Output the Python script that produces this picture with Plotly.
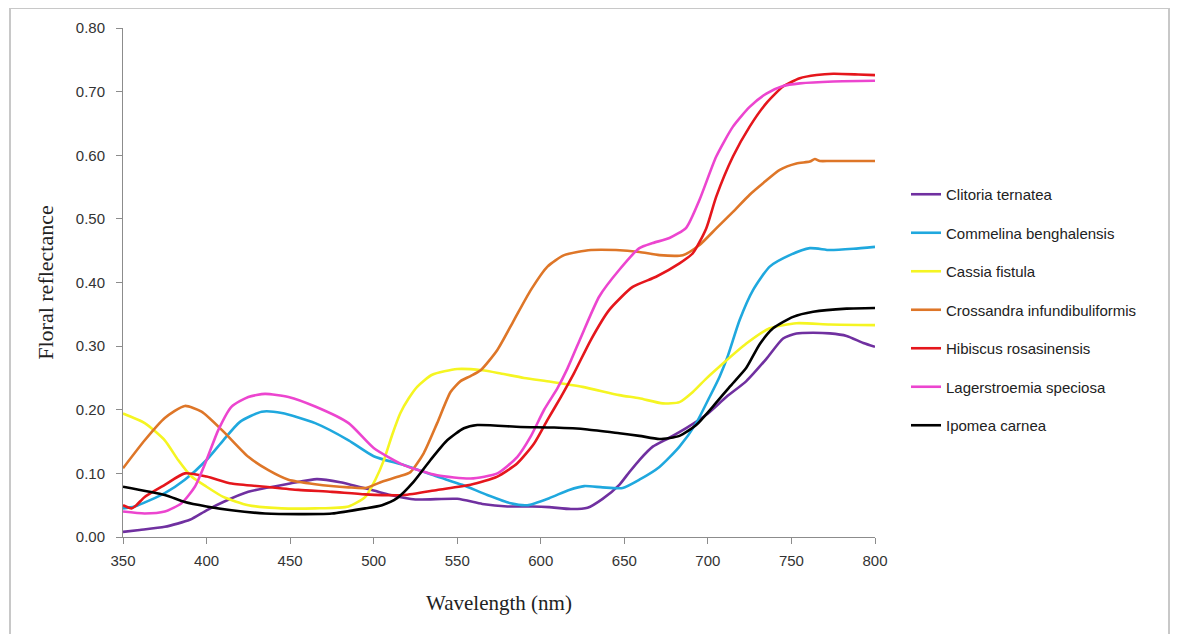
import plotly.graph_objects as go

# ---- data ----
clitoria_wl = [350, 360, 375, 390, 400, 410, 425, 450, 466, 480, 500, 510, 525, 550, 565, 580, 595, 605, 618, 628, 637, 647, 653, 659, 667, 677, 687, 699, 711, 723, 735, 745, 753, 763, 773, 783, 793, 800]
clitoria_val = [0.008, 0.011, 0.016, 0.027, 0.042, 0.055, 0.071, 0.084, 0.091, 0.086, 0.073, 0.066, 0.059, 0.060, 0.052, 0.048, 0.048, 0.047, 0.044, 0.046, 0.060, 0.082, 0.102, 0.121, 0.142, 0.156, 0.171, 0.192, 0.220, 0.245, 0.280, 0.312, 0.320, 0.321, 0.320, 0.316, 0.305, 0.299]

commelina_wl = [350, 357, 375, 387, 400, 410, 420, 433, 445, 465, 485, 500, 518, 538, 553, 568, 582, 592, 605, 617, 626, 637, 649, 659, 671, 683, 693, 701, 707, 712, 719, 727, 737, 749, 761, 773, 787, 800]
commelina_val = [0.045, 0.048, 0.069, 0.090, 0.121, 0.152, 0.181, 0.197, 0.195, 0.179, 0.152, 0.127, 0.113, 0.095, 0.082, 0.066, 0.053, 0.050, 0.061, 0.074, 0.080, 0.078, 0.077, 0.090, 0.110, 0.142, 0.179, 0.220, 0.252, 0.285, 0.341, 0.388, 0.425, 0.443, 0.454, 0.451, 0.453, 0.456]

cassia_wl = [350, 363, 375, 383, 391, 400, 410, 425, 445, 465, 485, 495, 501, 506, 511, 516, 521, 526, 535, 550, 565, 576, 590, 606, 625, 647, 659, 673, 683, 691, 699, 707, 723, 737, 753, 773, 800]
cassia_val = [0.194, 0.179, 0.152, 0.121, 0.095, 0.079, 0.063, 0.050, 0.045, 0.045, 0.048, 0.063, 0.090, 0.120, 0.160, 0.195, 0.218, 0.236, 0.255, 0.264, 0.262, 0.257, 0.250, 0.244, 0.236, 0.223, 0.218, 0.210, 0.212, 0.228, 0.249, 0.268, 0.304, 0.328, 0.336, 0.334, 0.333]

crossandra_wl = [350, 363, 375, 387, 397, 410, 425, 437, 449, 465, 485, 495, 505, 515, 522, 530, 538, 546, 552, 558, 564, 574, 584, 594, 604, 614, 630, 645, 659, 671, 685, 695, 705, 715, 725, 733, 743, 753, 761, 764, 767, 773, 800]
crossandra_val = [0.108, 0.152, 0.187, 0.206, 0.197, 0.166, 0.126, 0.105, 0.090, 0.083, 0.078, 0.077, 0.087, 0.095, 0.102, 0.132, 0.179, 0.228, 0.245, 0.253, 0.262, 0.294, 0.341, 0.388, 0.425, 0.443, 0.451, 0.451, 0.448, 0.443, 0.443, 0.459, 0.485, 0.511, 0.538, 0.556, 0.577, 0.587, 0.590, 0.594, 0.591, 0.591, 0.591]

hibiscus_wl = [350, 355, 358, 363, 375, 387, 400, 415, 435, 455, 475, 495, 518, 538, 558, 574, 586, 596, 604, 612, 620, 630, 641, 655, 669, 683, 691, 699, 705, 715, 725, 735, 745, 755, 765, 775, 790, 800]
hibiscus_val = [0.050, 0.045, 0.050, 0.063, 0.082, 0.100, 0.095, 0.084, 0.079, 0.074, 0.071, 0.067, 0.066, 0.074, 0.082, 0.095, 0.116, 0.147, 0.184, 0.220, 0.258, 0.310, 0.357, 0.393, 0.409, 0.430, 0.446, 0.485, 0.535, 0.598, 0.645, 0.682, 0.708, 0.721, 0.726, 0.728, 0.727, 0.726]

lagerstroemia_wl = [350, 363, 375, 385, 393, 400, 407, 415, 425, 435, 449, 465, 485, 500, 518, 538, 558, 574, 586, 594, 602, 610, 616, 625, 635, 647, 659, 667, 677, 687, 695, 705, 715, 725, 735, 745, 755, 775, 800]
lagerstroemia_val = [0.040, 0.037, 0.040, 0.053, 0.079, 0.121, 0.168, 0.205, 0.220, 0.225, 0.220, 0.205, 0.179, 0.140, 0.113, 0.097, 0.092, 0.100, 0.126, 0.158, 0.200, 0.234, 0.265, 0.320, 0.378, 0.420, 0.454, 0.462, 0.470, 0.486, 0.530, 0.598, 0.645, 0.676, 0.697, 0.709, 0.713, 0.716, 0.717]

ipomea_wl = [350, 375, 387, 400, 415, 435, 455, 475, 495, 505, 514, 524, 534, 544, 554, 562, 588, 608, 628, 647, 659, 671, 683, 693, 703, 713, 723, 731, 739, 751, 763, 783, 800]
ipomea_val = [0.079, 0.066, 0.055, 0.048, 0.042, 0.037, 0.036, 0.037, 0.045, 0.050, 0.061, 0.087, 0.121, 0.152, 0.171, 0.176, 0.173, 0.172, 0.169, 0.163, 0.159, 0.154, 0.159, 0.176, 0.205, 0.236, 0.266, 0.303, 0.328, 0.346, 0.354, 0.359, 0.360]

series = [
    ("Clitoria ternatea", clitoria_wl, clitoria_val, "#7030A0"),
    ("Commelina benghalensis", commelina_wl, commelina_val, "#1FA8DE"),
    ("Cassia fistula", cassia_wl, cassia_val, "#F5F522"),
    ("Crossandra infundibuliformis", crossandra_wl, crossandra_val, "#DE7628"),
    ("Hibiscus rosasinensis", hibiscus_wl, hibiscus_val, "#E5161C"),
    ("Lagerstroemia speciosa", lagerstroemia_wl, lagerstroemia_val, "#EC45CF"),
    ("Ipomea carnea", ipomea_wl, ipomea_val, "#000000"),
]

x_ticks = [350, 400, 450, 500, 550, 600, 650, 700, 750, 800]
y_ticks = [0.0, 0.1, 0.2, 0.3, 0.4, 0.5, 0.6, 0.7, 0.8]

fig = go.Figure()
for name, wl, val, col in series:
    fig.add_trace(go.Scatter(
        x=wl, y=val, mode="lines", name=name, legendgroup=name,
        line=dict(color=col, width=2.6, shape="spline", smoothing=0.6),
    ))

# page has an 8px body margin, so figure coordinates are page coordinates - 8
OFF = 8
W, H = 1179 - OFF, 634 - OFF
L, R, T, B = 123 - OFF, 875 - OFF, 28 - OFF, 537 - OFF
pw, ph = R - L, B - T

def px(xp):
    return (xp - OFF - L) / pw

def py(yp):
    return (B - (yp - OFF)) / ph

sans = "Liberation Sans, Arial, sans-serif"
serif = "Liberation Serif, Times New Roman, serif"

fig.update_layout(
    width=W, height=H,
    margin=dict(l=L, r=W - R, t=T, b=H - B),
    paper_bgcolor="white", plot_bgcolor="white",
    showlegend=True,
    legend=dict(
        x=px(906), y=py(178), xanchor="left", yanchor="top",
        font=dict(family=sans, size=15, color="#222222"),
        tracegroupgap=16, bgcolor="rgba(0,0,0,0)",
    ),
    xaxis=dict(
        range=[350, 800], tickvals=x_ticks, ticktext=[str(v) for v in x_ticks],
        showgrid=False, zeroline=False, showline=True, linecolor="#8C8C8C", linewidth=1,
        ticks="outside", ticklen=6, tickcolor="#8C8C8C", ticklabelstandoff=4,
        tickfont=dict(family=sans, size=15, color="#333333"),
        title=dict(text="Wavelength (nm)", standoff=27,
                   font=dict(family=serif, size=21, color="#222222")),
    ),
    yaxis=dict(
        range=[0, 0.8], tickvals=y_ticks, tickformat=".2f",
        showgrid=False, zeroline=False, showline=True, linecolor="#8C8C8C", linewidth=1,
        ticks="outside", ticklen=6, tickcolor="#8C8C8C", ticklabelstandoff=8,
        tickfont=dict(family=sans, size=15, color="#333333"),
        title=dict(text="Floral reflectance", standoff=16,
                   font=dict(family=serif, size=22, color="#222222")),
    ),
    shapes=[dict(
        type="rect", xref="paper", yref="paper",
        x0=px(10), x1=px(1169), y0=py(650), y1=py(8),
        line=dict(color="#C8C8C8", width=2), fillcolor="rgba(0,0,0,0)", layer="below",
    )],
)

fig.write_html("out.html")
